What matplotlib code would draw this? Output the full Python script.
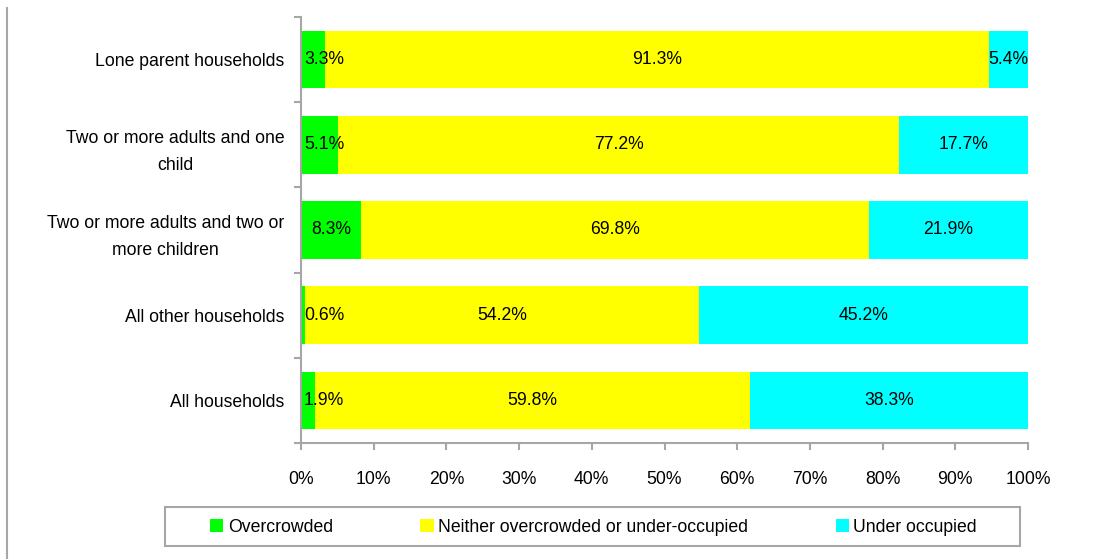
import matplotlib.pyplot as plt
from matplotlib.lines import Line2D
from matplotlib.patches import Rectangle, Patch

plt.rcParams['font.family'] = ['Liberation Sans', 'DejaVu Sans']

# data (top to bottom)
categories = ['Lone parent households',
              'Two or more adults and one\nchild',
              'Two or more adults and two or\nmore children',
              'All other households',
              'All households']
overcrowded = [3.3, 5.1, 8.3, 0.6, 1.9]
neither = [91.3, 77.2, 69.8, 54.2, 59.8]
under = [5.4, 17.7, 21.9, 45.2, 38.3]
series_names = ['Overcrowded', 'Neither overcrowded or under-occupied', 'Under occupied']
colors = ['#00ff00', '#ffff00', '#00ffff']
xticks = [0, 10, 20, 30, 40, 50, 60, 70, 80, 90, 100]

W, H = 1095, 559
fs = 12.7
grey = '#a6a6a6'

fig = plt.figure(figsize=(W / 100, H / 100), dpi=100)
ax = fig.add_axes([301 / W, 1 - 443 / H, (1028 - 301) / W, (443 - 17) / H])

ypos = list(range(len(categories)))
left = [0] * len(categories)
for vals, col in zip([overcrowded, neither, under], colors):
    ax.barh(ypos, vals, left=left, height=0.675, color=col, linewidth=0)
    for y, v, l in zip(ypos, vals, left):
        c = l + v / 2
        if c < 2.8:
            ax.text(0.4, y, f'{v:.1f}%', ha='left', va='center', fontsize=fs)
        else:
            ax.text(c, y, f'{v:.1f}%', ha='center', va='center', fontsize=fs)
    left = [a + b for a, b in zip(left, vals)]

ax.set_xlim(0, 100)
ax.set_ylim(len(categories) - 0.5, -0.5)
ax.set_xticks(xticks)
ax.set_xticklabels([f'{t}%' for t in xticks], fontsize=fs)

# category boundaries as major ticks, labels on minor ticks
ax.set_yticks([i - 0.5 for i in range(len(categories) + 1)])
ax.set_yticklabels([])
ax.set_yticks(ypos, minor=True)
ax.set_yticklabels(categories, minor=True, fontsize=fs, linespacing=1.8)
ax.tick_params(axis='y', which='minor', length=0, pad=12)
for lab in ax.get_yticklabels(minor=True):
    lab.set_horizontalalignment('right')
    lab.set_multialignment('center')

ax.tick_params(axis='both', which='major', direction='out', length=5, width=1.5, color=grey)
ax.tick_params(axis='x', pad=15)
for s in ['top', 'right']:
    ax.spines[s].set_visible(False)
for s in ['left', 'bottom']:
    ax.spines[s].set_color(grey)
    ax.spines[s].set_linewidth(1.5)

# legend with manual frame
fig.add_artist(Rectangle((165 / W, 1 - 546 / H), (1020 - 165) / W, 39 / H,
                         transform=fig.transFigure, fill=False, edgecolor=grey, linewidth=1.5))
handles = [Patch(facecolor=c, edgecolor='none') for c in colors]
fig.legend(handles, series_names, loc='center', mode='expand', ncol=3,
           bbox_to_anchor=(210 / W, 1 - 537 / H, (977 - 210) / W, 20 / H),
           frameon=False, borderpad=0, borderaxespad=0, fontsize=fs,
           handlelength=0.75, handleheight=0.75, handletextpad=0.25)

# left border line
fig.add_artist(Line2D([7 / W, 7 / W], [0, 1 - 8 / H], transform=fig.transFigure,
                      color=grey, linewidth=1.5))

fig.savefig('out.png', dpi=100)
